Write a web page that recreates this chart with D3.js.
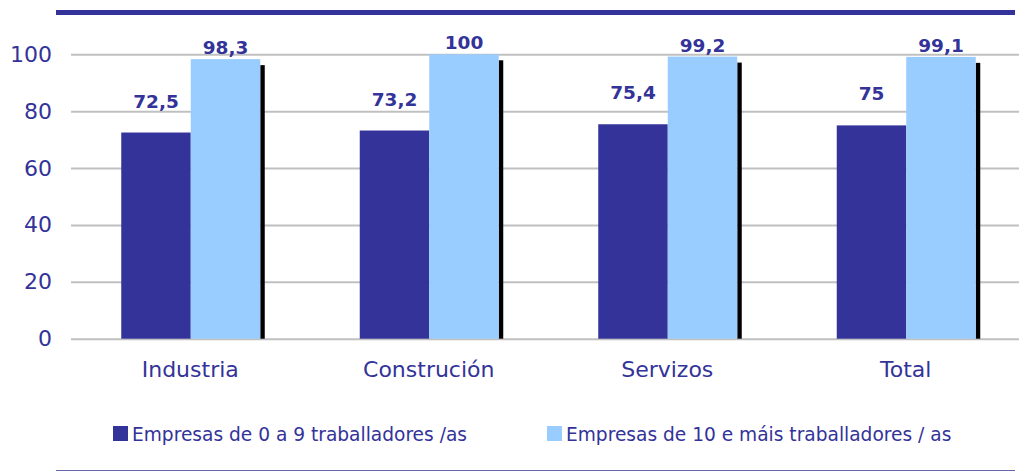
<!DOCTYPE html>
<html>
<head>
<meta charset="utf-8">
<script src="https://cdn.jsdelivr.net/npm/d3@7"></script>
<style>
  body { margin: 0; background: #fff; }
  svg { display: block; font-family: 'DejaVu Sans', Verdana, sans-serif; }
</style>
</head>
<body>
<div id="chart"></div>
<script>
// data
var categories = ['Industria', 'Construción', 'Servizos', 'Total']
var seriesNames = ['Empresas de 0 a 9 traballadores /as', 'Empresas de 10 e máis traballadores / as']
var small = [72.5, 73.2, 75.4, 75]
var large = [98.3, 100, 99.2, 99.1]
var yTicks = [0, 20, 40, 60, 80, 100]

var colors = ['#333399', '#99ccff']
var textColor = '#333399'

var width = 1019
var height = 472

var svg = d3.select('#chart')
  .append('svg')
  .attr('width', width)
  .attr('height', height)

// scales
var xPositionScale = d3.scaleBand()
  .domain(categories)
  .range([71, 1025])
  .padding(0)

var xInner = d3.scaleBand()
  .domain([0, 1])
  .range([xPositionScale.bandwidth() / 2 - 69, xPositionScale.bandwidth() / 2 + 70])
  .padding(0)

var yPositionScale = d3.scaleLinear()
  .domain([0, 100])
  .range([338.7, 54.3])

// top rule
svg.append('rect')
  .attr('x', 56)
  .attr('y', 10)
  .attr('width', 959)
  .attr('height', 5)
  .attr('fill', '#333399')

// bottom rule
svg.append('line')
  .attr('x1', 56)
  .attr('x2', 1015)
  .attr('y1', 470.5)
  .attr('y2', 470.5)
  .attr('stroke', '#6666aa')
  .attr('stroke-width', 1)

// y axis + gridlines
var yAxis = d3.axisLeft(yPositionScale)
  .tickValues(yTicks)
  .tickSize(-(width - 71))
  .tickPadding(19)
svg.append('g')
  .attr('class', 'axis y-axis')
  .attr('transform', 'translate(71,0)')
  .call(yAxis)
  .call(g => g.select('.domain').remove())
  .call(g => g.selectAll('line').attr('stroke', '#c0c0c0').attr('stroke-width', 2))
  .call(g => g.selectAll('text')
    .attr('fill', textColor)
    .attr('font-size', 22)
    .attr('font-family', "'DejaVu Sans', Verdana, sans-serif"))

// x axis
var xAxis = d3.axisBottom(xPositionScale).tickSize(0).tickPadding(23)
svg.append('g')
  .attr('class', 'axis x-axis')
  .attr('transform', 'translate(0,' + yPositionScale(0) + ')')
  .call(xAxis)
  .call(g => g.select('.domain').remove())
  .call(g => g.selectAll('text')
    .attr('fill', textColor)
    .attr('font-size', 22)
    .attr('font-family', "'DejaVu Sans', Verdana, sans-serif"))

// bars
var rows = categories.map(function(c, i) {
  return { cat: c, values: [small[i], large[i]] }
})

var groups = svg.selectAll('.group')
  .data(rows)
  .enter()
  .append('g')
  .attr('class', 'group')
  .attr('transform', d => 'translate(' + xPositionScale(d.cat) + ',0)')

// black shadow beside light bars
groups.append('rect')
  .attr('x', xInner(1) + xInner.bandwidth())
  .attr('y', d => yPositionScale(d.values[1]) + 6)
  .attr('width', 4.5)
  .attr('height', d => yPositionScale(0) - yPositionScale(d.values[1]) - 6)
  .attr('fill', '#000')

groups.selectAll('.bar')
  .data(d => d.values)
  .enter()
  .append('rect')
  .attr('class', 'bar')
  .attr('x', (d, i) => xInner(i))
  .attr('y', d => yPositionScale(d))
  .attr('width', xInner.bandwidth())
  .attr('height', d => yPositionScale(0) - yPositionScale(d))
  .attr('fill', (d, i) => colors[i])

// value labels
var labelOffset = [25, 5]
groups.selectAll('.label')
  .data(d => d.values)
  .enter()
  .append('text')
  .attr('class', 'label')
  .attr('x', (d, i) => xInner(i) + xInner.bandwidth() / 2)
  .attr('y', (d, i) => yPositionScale(d) - labelOffset[i])
  .attr('text-anchor', 'middle')
  .attr('font-size', 18.5)
  .attr('font-weight', 'bold')
  .attr('fill', textColor)
  .text(d => String(d).replace('.', ','))

// legend
var legendX = [113, 547]
var legend = svg.selectAll('.legend')
  .data(seriesNames)
  .enter()
  .append('g')
  .attr('class', 'legend')
  .attr('transform', (d, i) => 'translate(' + legendX[i] + ',426)')

legend.append('rect')
  .attr('width', 15)
  .attr('height', 15)
  .attr('fill', (d, i) => colors[i])

legend.append('text')
  .attr('x', 19)
  .attr('y', 15)
  .attr('font-size', 18.6)
  .attr('fill', textColor)
  .text(d => d)
</script>
</body>
</html>
